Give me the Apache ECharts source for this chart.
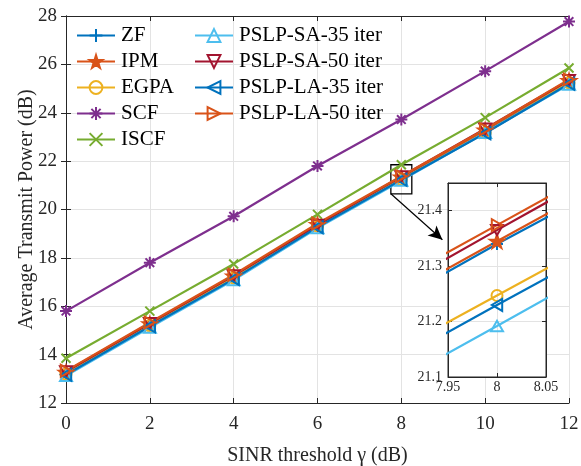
<!DOCTYPE html>
<html>
<head>
<meta charset="utf-8">
<script src="https://cdn.jsdelivr.net/npm/echarts@6/dist/echarts.min.js"></script>
<style>
  html, body { margin: 0; padding: 0; background: #fff; }
  #main { width: 581px; height: 466px; }
</style>
</head>
<body>
<div id="main"></div>
<script>
// 横轴 SINR 门限 (dB)
var sinr = [0, 2, 4, 6, 8, 10, 12];
// 各算法平均发射功率 (dB)
var zf    = [13.25, 15.25, 17.22, 19.35, 21.340, 23.22, 25.30];
var ipm   = [13.27, 15.27, 17.25, 19.38, 21.345, 23.28, 25.33];
var egpa  = [13.20, 15.20, 17.17, 19.32, 21.247, 23.17, 25.24];
var scf   = [15.80, 17.80, 19.72, 21.80, 23.72, 25.72, 27.77];
var iscf  = [13.85, 15.80, 17.75, 19.80, 21.85, 23.80, 25.85];
var sa35  = [13.12, 15.12, 17.08, 19.23, 21.192, 23.17, 25.17];
var sa50  = [13.30, 15.30, 17.27, 19.36, 21.365, 23.34, 25.35];
var la35  = [13.17, 15.17, 17.13, 19.27, 21.230, 23.15, 25.20];
var la50  = [13.33, 15.33, 17.30, 19.42, 21.374, 23.32, 25.38];
// 图例名称
var names = ["ZF", "IPM", "EGPA", "SCF", "ISCF",
             "PSLP-SA-35 iter", "PSLP-SA-50 iter", "PSLP-LA-35 iter", "PSLP-LA-50 iter"];
// 局部放大区域
var zoomBox = [[7.75, 20.65], [8.25, 21.85]];
var arrowEnd = [8.98, 18.75];

var font = "'Liberation Serif', 'DejaVu Serif', serif";
var txt = "#262626";

// 标记形状
var P = {
    plus: "path://M0,-1L0,1M-1,0L1,0",
    cross: "path://M-1,-1L1,1M-1,1L1,-1",
    aster: "path://M0,-1L0,1M-1,0L1,0M-0.72,-0.72L0.72,0.72M-0.72,0.72L0.72,-0.72",
    star: "path://M0,-1L0.2245,-0.309L0.951,-0.309L0.363,0.118L0.588,0.809L0,0.382L-0.588,0.809L-0.363,0.118L-0.951,-0.309L-0.2245,-0.309Z",
    up: "path://M0,-1L0.866,0.5L-0.866,0.5Z",
    down: "path://M0,1L0.866,-0.5L-0.866,-0.5Z",
    left: "path://M-1,0L0.5,0.866L0.5,-0.866Z",
    right: "path://M1,0L-0.5,0.866L-0.5,-0.866Z"
};

var defs = [
    { data: zf,   color: "#0072BD", symbol: P.plus,  size: 12, fill: false },
    { data: ipm,  color: "#D95319", symbol: P.star,  size: 14, fill: true },
    { data: egpa, color: "#EDB120", symbol: "circle", size: 11, fill: false },
    { data: scf,  color: "#7E2F8E", symbol: P.aster, size: 12, fill: false },
    { data: iscf, color: "#77AC30", symbol: P.cross, size: 9, fill: false },
    { data: sa35, color: "#4DBEEE", symbol: P.up,    size: 12, fill: false },
    { data: sa50, color: "#A2142F", symbol: P.down,  size: 12, fill: false },
    { data: la35, color: "#0072BD", symbol: P.left,  size: 12, fill: false },
    { data: la50, color: "#D95319", symbol: P.right, size: 12, fill: false }
];

function makeSeries(inset) {
    return defs.map(function (d, i) {
        var s = {
            name: names[i],
            type: "line",
            xAxisIndex: inset ? 2 : 0,
            yAxisIndex: inset ? 2 : 0,
            data: sinr.map(function (x, k) { return [x, d.data[k]]; }),
            symbol: d.symbol,
            symbolSize: d.size,
            symbolKeepAspect: true,
            showAllSymbol: true,
            clip: true,
            z: inset ? 12 : 2,
            lineStyle: { color: d.color, width: 2.2 },
            itemStyle: {
                color: d.fill ? d.color : "rgba(0,0,0,0)",
                borderColor: d.color,
                borderWidth: 2
            },
            emphasis: { disabled: true },
            animation: false
        };
        if (!inset && i === 0) {
            // 放大框
            s.markArea = {
                silent: true,
                itemStyle: { color: "rgba(0,0,0,0)", borderColor: "#000", borderWidth: 1.3 },
                data: [[{ coord: zoomBox[0] }, { coord: zoomBox[1] }]]
            };
            // 指示箭头
            s.markLine = {
                silent: true,
                symbol: ["none", "arrow"],
                symbolSize: [10, 14],
                label: { show: false },
                lineStyle: { color: "#000", width: 1.2, type: "solid" },
                data: [[{ coord: [zoomBox[0][0], zoomBox[0][1]] }, { coord: arrowEnd }]]
            };
        }
        return s;
    });
}

var gridLine = { show: true, lineStyle: { color: "#e3e3e3", width: 1 } };
var axisLine = { show: true, lineStyle: { color: txt, width: 1 } };

function legendCfg(list, left) {
    return {
        data: list,
        orient: "vertical",
        left: left,
        top: 20,
        itemWidth: 38,
        itemHeight: 16,
        itemGap: 5,
        selectedMode: false,
        textStyle: { fontFamily: font, fontSize: 21, color: "#000", padding: [0, 0, 0, 1] }
    };
}

var myChart = echarts.init(document.getElementById("main"), null, { renderer: "canvas" });
var option = {
    backgroundColor: "#fff",
    animation: false,
    legend: [
        legendCfg(names.slice(0, 5), 71),
        legendCfg(names.slice(5), 189)
    ],
    grid: [
        { left: 66, top: 16, width: 503, height: 387, show: false,
          containLabel: false, outerBoundsMode: "none" },
        { left: 448, top: 183, width: 98, height: 194, show: true,
          containLabel: false, outerBoundsMode: "none",
          backgroundColor: "#fff", borderColor: txt, borderWidth: 1, z: 10 }
    ],
    xAxis: [
        {
            gridIndex: 0, type: "value", min: 0, max: 12, interval: 2,
            name: "SINR threshold \u03b3 (dB)", nameLocation: "middle", nameGap: 43,
            nameMoveOverlap: false,
            nameTextStyle: { fontFamily: font, fontSize: 20, color: txt },
            axisLine: axisLine,
            axisTick: { show: true, inside: true, length: 5, lineStyle: { color: txt } },
            axisLabel: { fontFamily: font, fontSize: 19, color: txt, margin: 12 },
            splitLine: gridLine
        },
        {
            gridIndex: 0, type: "value", position: "top", min: 0, max: 12, interval: 2,
            axisLine: axisLine,
            axisTick: { show: true, inside: true, length: 5, lineStyle: { color: txt } },
            axisLabel: { show: false }, splitLine: { show: false }
        },
        {
            gridIndex: 1, type: "value", min: 7.95, max: 8.05, interval: 0.05, z: 11,
            axisLine: axisLine,
            axisTick: { show: true, inside: true, length: 4, lineStyle: { color: txt } },
            axisLabel: { fontFamily: font, fontSize: 14, color: txt, margin: 3 },
            splitLine: gridLine
        },
        {
            gridIndex: 1, type: "value", position: "top", min: 7.95, max: 8.05, interval: 0.05, z: 11,
            axisLine: axisLine,
            axisTick: { show: true, inside: true, length: 4, lineStyle: { color: txt } },
            axisLabel: { show: false }, splitLine: { show: false }
        }
    ],
    yAxis: [
        {
            gridIndex: 0, type: "value", min: 12, max: 28, interval: 2,
            name: "Average Transmit Power (dB)", nameLocation: "middle", nameGap: 29,
            nameMoveOverlap: false,
            nameTextStyle: { fontFamily: font, fontSize: 20, color: txt },
            axisLine: axisLine,
            axisTick: { show: true, inside: true, length: 5, lineStyle: { color: txt } },
            axisLabel: { fontFamily: font, fontSize: 19, color: txt, margin: 9 },
            splitLine: gridLine
        },
        {
            gridIndex: 0, type: "value", position: "right", min: 12, max: 28, interval: 2,
            axisLine: axisLine,
            axisTick: { show: true, inside: true, length: 5, lineStyle: { color: txt } },
            axisLabel: { show: false }, splitLine: { show: false }
        },
        {
            gridIndex: 1, type: "value", min: 21.1, max: 21.45, interval: 0.1, z: 11,
            axisLine: axisLine,
            axisTick: { show: true, inside: true, length: 4, lineStyle: { color: txt } },
            axisLabel: { fontFamily: font, fontSize: 14, color: txt, margin: 6, showMaxLabel: false },
            splitLine: gridLine
        },
        {
            gridIndex: 1, type: "value", position: "right", min: 21.1, max: 21.45, interval: 0.1, z: 11,
            axisLine: axisLine,
            axisTick: { show: true, inside: true, length: 4, lineStyle: { color: txt } },
            axisLabel: { show: false }, splitLine: { show: false }
        }
    ],
    series: makeSeries(false).concat(makeSeries(true))
};
myChart.setOption(option);
</script>
</body>
</html>
